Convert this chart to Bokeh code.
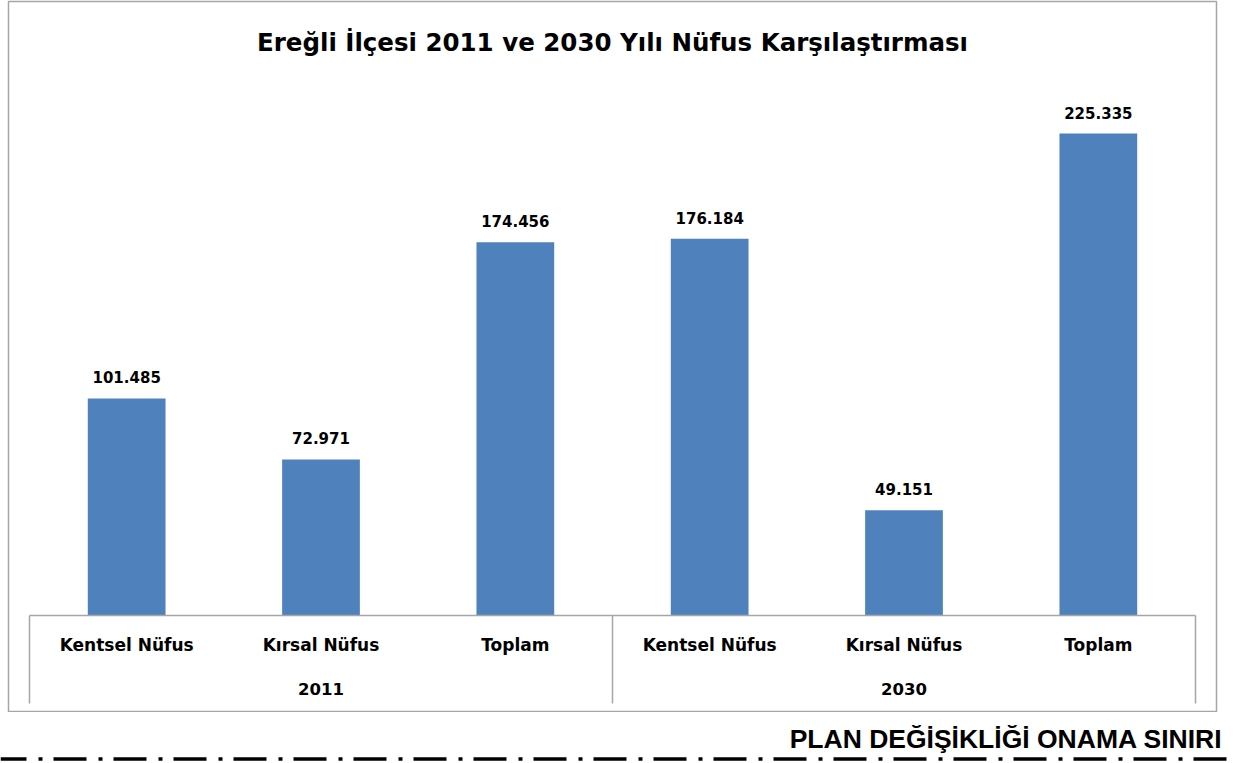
from bokeh.plotting import figure
from bokeh.models import (FactorRange, Range1d, ColumnDataSource, CategoricalAxis,
                          Label, Span)
from bokeh.layouts import column
from bokeh.embed import file_html
from bokeh.resources import INLINE
from bokeh.core.properties import value

# ---------------- data ----------------
title_text = "Ereğli İlçesi 2011 ve 2030 Yılı Nüfus Karşılaştırması"
years = ["2011", "2030"]
categories = ["Kentsel Nüfus", "Kırsal Nüfus", "Toplam"]
values_2011 = [101485, 72971, 174456]
values_2030 = [176184, 49151, 225335]
footer_text = "PLAN DEĞİŞİKLİĞİ ONAMA SINIRI"

# ---------------- layout constants ----------------
FONT = "DejaVu Sans"
BAR_COLOR = "#4F81BD"
GRID_GREY = "#A6A6A6"
W, H = 1236, 712             # canvas of the chart part
FRAME_H = H - 2              # frame spans y 1..711
BASE = 614                   # baseline, px below frame top
PX_PER_UNIT = 482 / 225335   # pixel per person

factors = [(y, c) for y in years for c in categories]
vals = values_2011 + values_2030
labels = [f"{v:,}".replace(",", ".") for v in vals]
src = ColumnDataSource(dict(x=factors, top=vals, label=labels))

y_end = BASE / PX_PER_UNIT
y_start = -(FRAME_H - BASE) / PX_PER_UNIT

xr = FactorRange(*factors, group_padding=0, factor_padding=0, subgroup_padding=0,
                 range_padding=0.108, range_padding_units="absolute")
p = figure(width=W, height=H, x_range=xr, y_range=Range1d(y_start, y_end),
           toolbar_location=None, output_backend="svg",
           x_axis_location=None, y_axis_location=None,
           min_border_left=8, min_border_right=20, min_border_top=1, min_border_bottom=1)
p.frame_align = False
p.outline_line_color = GRID_GREY
p.outline_line_width = 1.5
p.grid.visible = False
p.background_fill_color = "white"
p.border_fill_color = "white"

p.vbar(x="x", top="top", width=0.40, bottom=0, source=src,
       fill_color=BAR_COLOR, line_color=None)

p.text(x="x", y="top", text="label", source=src, text_align="center",
       text_baseline="alphabetic", y_offset=-21, text_font=value(FONT),
       text_font_style="bold", text_font_size="15px", text_color="black")

# category axis drawn at y = 0 (inner level labels)
xaxis = CategoricalAxis(fixed_location=0, bounds=(0, 6))
xaxis.axis_line_color = GRID_GREY
xaxis.axis_line_width = 1.5
xaxis.major_tick_line_color = None
xaxis.minor_tick_line_color = None
xaxis.separator_line_color = None
xaxis.major_label_text_font = FONT
xaxis.major_label_text_font_style = "bold"
xaxis.major_label_text_font_size = "17px"
xaxis.major_label_text_color = "black"
xaxis.major_label_standoff = 13
xaxis.group_text_color = None
p.add_layout(xaxis, "below")

# outer level (year) labels of the category table
group_depth = -(688 - 615) / PX_PER_UNIT
p.text(x=[(y, categories[len(categories) // 2]) for y in years],
       y=[group_depth] * len(years), text=years, text_align="center",
       text_baseline="middle", text_font=value(FONT), text_font_style="bold",
       text_font_size="16.5px", text_color="black")

# vertical separators of the category table
sep_depth = -(703 - 615) / PX_PER_UNIT
sep_x = [(years[0], categories[0], -0.5), (years[1], categories[0], -0.5),
         (years[1], categories[-1], 0.5)]
p.segment(x0=sep_x, y0=[0] * 3, x1=sep_x, y1=[sep_depth] * 3,
          line_color=GRID_GREY, line_width=1.5)

p.add_layout(Label(x=3, y=(615 - 42) / PX_PER_UNIT, text=title_text,
                   text_align="center", text_baseline="middle",
                   text_font=FONT, text_font_style="bold", text_font_size="24.5px",
                   text_color="black"))

# ---------------- footer ----------------
FW, FH = 1236, 51
p2 = figure(width=FW, height=FH, x_range=Range1d(0, FW), y_range=Range1d(0, FH),
            toolbar_location=None, output_backend="svg",
            x_axis_location=None, y_axis_location=None, min_border=0)
p2.frame_align = False
p2.outline_line_color = None
p2.grid.visible = False
p2.add_layout(Label(x=1222, y=FH - 26, text=footer_text, text_align="right",
                    text_baseline="middle", text_font="Liberation Sans",
                    text_font_style="bold", text_font_size="26.5px", text_color="black"))
p2.add_layout(Span(location=FH - 46.5, dimension="width", line_color="black",
                   line_width=3.5, line_dash="33 12 4 11", line_dash_offset=7))

layout = column(p, p2, spacing=0)
open("out.html", "w").write(file_html(layout, INLINE))
